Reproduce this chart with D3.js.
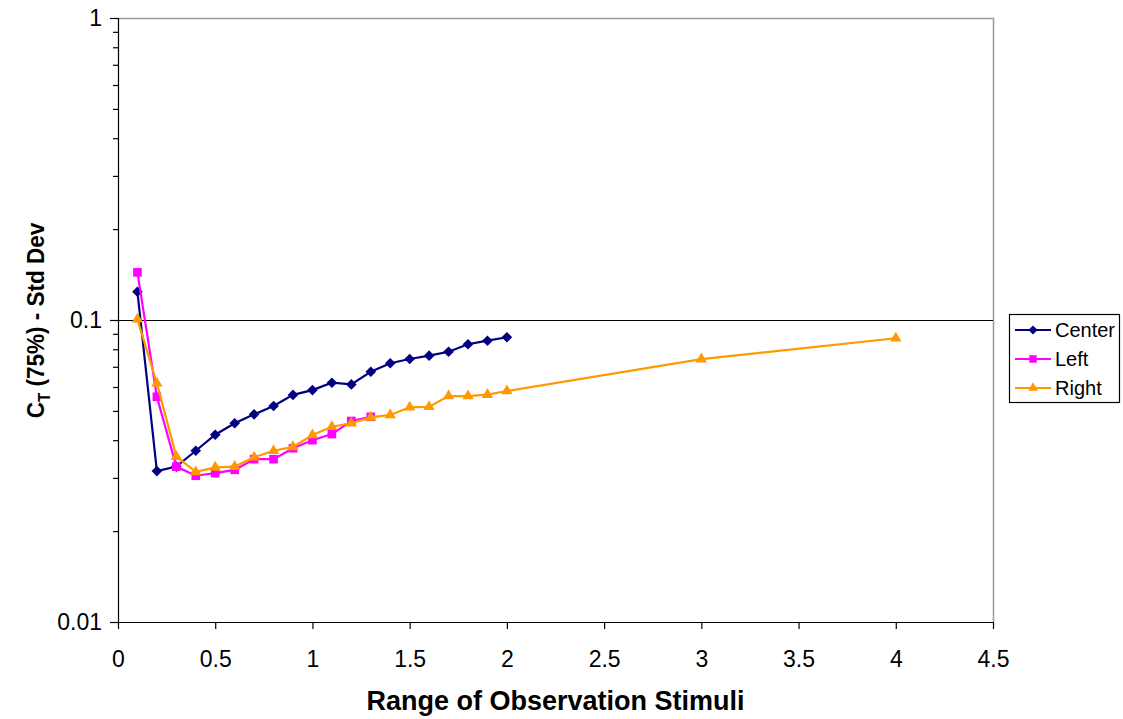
<!DOCTYPE html>
<html>
<head>
<meta charset="utf-8">
<script src="https://cdn.jsdelivr.net/npm/d3@7"></script>
<style>
  html, body { margin: 0; padding: 0; background: #fff; }
  svg { display: block; font-family: "Liberation Sans", Arial, sans-serif; }
</style>
</head>
<body>
<svg id="chart" width="1123" height="719"></svg>
<script>
// Observation range (x) shared by the series
const rangeCenter = [0.1,0.2,0.3,0.4,0.5,0.6,0.7,0.8,0.9,1.0,1.1,1.2,1.3,1.4,1.5,1.6,1.7,1.8,1.9,2.0];
const rangeLeft   = [0.1,0.2,0.3,0.4,0.5,0.6,0.7,0.8,0.9,1.0,1.1,1.2,1.3];
const rangeRight  = [0.1,0.2,0.3,0.4,0.5,0.6,0.7,0.8,0.9,1.0,1.1,1.2,1.3,1.4,1.5,1.6,1.7,1.8,1.9,2.0,3.0,4.0];

// C_T (75%) standard deviation values
const valuesCenter = [0.124,0.0316,0.0327,0.0369,0.0417,0.0455,0.0487,0.0519,0.0565,0.0586,0.0620,0.0612,0.0674,0.0719,0.0743,0.0762,0.0785,0.0831,0.0854,0.0877];
const valuesLeft   = [0.1438,0.0557,0.0327,0.0305,0.0311,0.0319,0.0346,0.0346,0.0376,0.0400,0.0419,0.0463,0.0478];
const valuesRight  = [0.1005,0.0617,0.0353,0.0314,0.0325,0.0327,0.0351,0.0369,0.0380,0.0416,0.0443,0.0455,0.0476,0.0485,0.0514,0.0516,0.0560,0.0560,0.0566,0.0582,0.0742,0.0870];

const seriesNames = ["Center", "Left", "Right"];
const xTicks = [0,0.5,1,1.5,2,2.5,3,3.5,4,4.5];
const yTicks = [0.01,0.1,1];

const series = [
  {name: seriesNames[0], xs: rangeCenter, ys: valuesCenter, color: "#000080", symbol: d3.symbolDiamond2, size: 72},
  {name: seriesNames[1], xs: rangeLeft,   ys: valuesLeft,   color: "#FF00FF", symbol: d3.symbolSquare2,  size: 95},
  {name: seriesNames[2], xs: rangeRight,  ys: valuesRight,  color: "#FF9900", symbol: d3.symbolTriangle2, size: 92}
];

const svg = d3.select("#chart");
const L = 118, R = 993, T = 18, B = 622;

const x = d3.scaleLinear().domain([0, 4.5]).range([L, R]);
const y = d3.scaleLog().domain([0.01, 1]).range([B, T]);

// plot frame (top/right) in grey
svg.append("path")
  .attr("d", `M${L},${T + 0.5}H${R + 0.5}V${B}`)
  .attr("fill", "none").attr("stroke", "#999").attr("stroke-width", 1.5);

// major gridline at 0.1
svg.append("line")
  .attr("x1", L).attr("x2", R).attr("y1", y(0.1) + 0.5).attr("y2", y(0.1) + 0.5)
  .attr("stroke", "#000").attr("stroke-width", 1.2);

// y axis: major ticks labelled, minor ticks unlabelled
const minorTicks = [];
[0.01, 0.1].forEach(d => { for (let k = 2; k <= 9; k++) minorTicks.push(d * k); });

const yAxis = d3.axisLeft(y).tickValues(yTicks).tickSize(8).tickPadding(8)
  .tickFormat(d => d3.format("~g")(d));
const gy = svg.append("g").attr("transform", `translate(${L},0)`).call(yAxis);
gy.selectAll("text").style("font-size", "23px").attr("fill", "#000");
gy.selectAll("line, path").attr("stroke", "#000").attr("stroke-width", 1.2);

svg.append("g").attr("transform", `translate(${L},0)`)
  .call(d3.axisLeft(y).tickValues(minorTicks).tickSize(5).tickFormat(""))
  .call(g => g.select(".domain").remove())
  .selectAll("line").attr("stroke", "#000").attr("stroke-width", 1.2);

// x axis
const xAxis = d3.axisBottom(x).tickValues(xTicks).tickSize(7).tickPadding(22)
  .tickFormat(d => d3.format("~g")(d));
const gx = svg.append("g").attr("transform", `translate(0,${B})`).call(xAxis);
gx.selectAll("text").style("font-size", "23px").attr("fill", "#000");
gx.selectAll("line").attr("stroke", "#000").attr("stroke-width", 1.2);
gx.select(".domain").attr("d", `M${L - 8},0.5H${R}`).attr("stroke", "#000").attr("stroke-width", 1.2);

// series lines and markers
series.forEach(s => {
  const pts = s.xs.map((v, i) => [v, s.ys[i]]);
  svg.append("path")
    .datum(pts)
    .attr("fill", "none").attr("stroke", s.color).attr("stroke-width", 2.2)
    .attr("d", d3.line().x(d => x(d[0])).y(d => y(d[1])));
  svg.append("g").selectAll("path").data(pts).join("path")
    .attr("transform", d => `translate(${x(d[0])},${y(d[1])})`)
    .attr("d", d3.symbol(s.symbol, s.size))
    .attr("fill", s.color);
});

// axis titles
svg.append("text")
  .attr("x", 555.5).attr("y", 710)
  .attr("text-anchor", "middle")
  .style("font-size", "27px").style("font-weight", "bold")
  .text("Range of Observation Stimuli");

const yt = svg.append("text")
  .attr("transform", `translate(44,320.5) rotate(-90) scale(1,1.1)`)
  .attr("text-anchor", "middle")
  .style("font-size", "22.5px").style("font-weight", "bold");
yt.append("tspan").text("C");
yt.append("tspan").attr("dy", 5).style("font-size", "15px").text("T");
yt.append("tspan").attr("dy", -5).text(" (75%) - Std Dev");

// legend
const lg = svg.append("g").attr("transform", "translate(1009,314)");
lg.append("rect").attr("x", 0.5).attr("y", 0.5).attr("width", 110).attr("height", 88)
  .attr("fill", "#fff").attr("stroke", "#000").attr("stroke-width", 1.2);
series.forEach((s, i) => {
  const cy = 16 + i * 29;
  lg.append("line").attr("x1", 6).attr("x2", 42).attr("y1", cy).attr("y2", cy)
    .attr("stroke", s.color).attr("stroke-width", 2);
  lg.append("path").attr("transform", `translate(24,${cy})`)
    .attr("d", d3.symbol(s.symbol, s.size * 0.75)).attr("fill", s.color);
  lg.append("text").attr("x", 46).attr("y", cy + 7)
    .style("font-size", "20px").text(s.name);
});
</script>
</body>
</html>
